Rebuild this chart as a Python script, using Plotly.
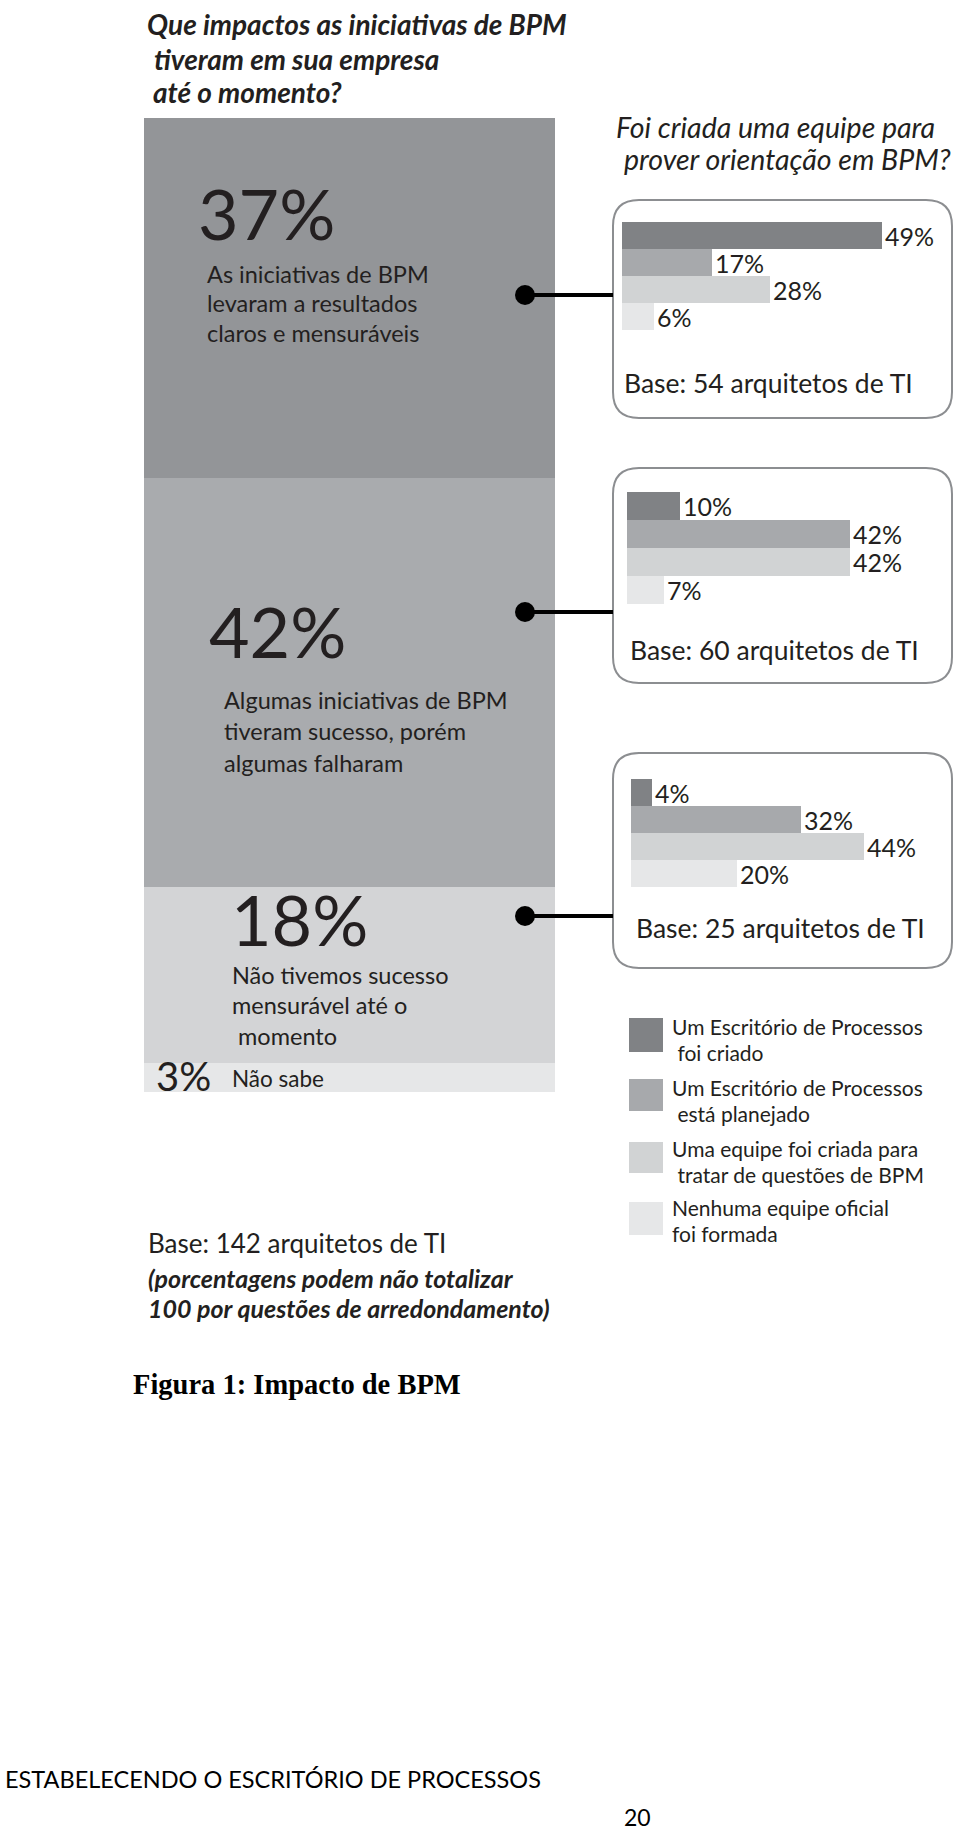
import plotly.graph_objects as go

W, H = 960, 1831


def X(px):
    return px / W


def Y(py):
    return 1 - py / H


# ---------------- data ----------------
title_lines = ["Que impactos as iniciativas de BPM", "tiveram em sua empresa", "até o momento?"]
impact_values = [37, 42, 18, 3]
impact_desc = [
    ["As iniciativas de BPM", "levaram a resultados", "claros e mensuráveis"],
    ["Algumas iniciativas de BPM", "tiveram sucesso, porém", "algumas falharam"],
    ["Não tivemos sucesso", "mensurável até o", " momento"],
    ["Não sabe"],
]
team_title = ["Foi criada uma equipe para", "prover orientação em BPM?"]
team_categories = [
    "Um Escritório de Processos foi criado",
    "Um Escritório de Processos está planejado",
    "Uma equipe foi criada para tratar de questões de BPM",
    "Nenhuma equipe oficial foi formada",
]
legend_lines = [
    ["Um Escritório de Processos", " foi criado"],
    ["Um Escritório de Processos", " está planejado"],
    ["Uma equipe foi criada para", " tratar de questões de BPM"],
    ["Nenhuma equipe oficial", "foi formada"],
]
team_values = [
    [49, 17, 28, 6],
    [10, 42, 42, 7],
    [4, 32, 44, 20],
]
team_bases = [54, 60, 25]
base_total = 142
note_lines = ["(porcentagens podem não totalizar", "100 por questões de arredondamento)"]
caption = "Figura 1: Impacto de BPM"
footer = "ESTABELECENDO O ESCRITÓRIO DE PROCESSOS"
page_number = "20"

# ---------------- style ----------------
impact_colors = ["#939598", "#a9abae", "#d3d4d6", "#e6e7e8"]
team_colors = ["#808285", "#a7a9ac", "#d1d3d4", "#e6e7e8"]
TXT = "#231f20"
SANS = "Lato"

fig = go.Figure()

# main stacked column
for v, c in zip(impact_values, impact_colors):
    fig.add_trace(go.Bar(x=[0], y=[v], width=1, marker=dict(color=c, line=dict(width=0)),
                         xaxis="x", yaxis="y", showlegend=False, hoverinfo="skip"))

# small horizontal bar charts
bar_start = [622, 627, 631]
bar_top = [222, 492, 779]
bar_bot = [330, 604, 887]
PX_PER = 5.3
XMAX = 60
for i, vals in enumerate(team_values):
    ax = str(i + 2)
    fig.add_trace(go.Bar(
        orientation="h", x=vals, y=team_categories,
        marker=dict(color=team_colors, line=dict(width=0)),
        text=[f"{v}%" for v in vals], textposition="outside", cliponaxis=False,
        constraintext="none", textfont=dict(family=SANS, size=25, color=TXT),
        xaxis="x" + ax, yaxis="y" + ax, showlegend=False, hoverinfo="skip"))

layout_axes = {}
layout_axes["xaxis"] = dict(domain=[X(144), X(555)], range=[-0.5, 0.5], visible=False, fixedrange=True)
layout_axes["yaxis"] = dict(domain=[Y(1092), Y(118)], range=[100, 0], visible=False, fixedrange=True)
for i in range(3):
    ax = str(i + 2)
    layout_axes["xaxis" + ax] = dict(domain=[X(bar_start[i]), X(bar_start[i] + PX_PER * XMAX)],
                                     range=[0, XMAX], visible=False, anchor="y" + ax)
    layout_axes["yaxis" + ax] = dict(domain=[Y(bar_bot[i]), Y(bar_top[i])],
                                     autorange="reversed", visible=False, anchor="x" + ax)

shapes = []
# rounded boxes
boxes = [(613, 952, 200, 418), (613, 952, 468, 683), (613, 952, 753, 968)]
r = 26
for (x0, x1, y0, y1) in boxes:
    p = (f"M {X(x0 + r)},{Y(y0)} L {X(x1 - r)},{Y(y0)} Q {X(x1)},{Y(y0)} {X(x1)},{Y(y0 + r)} "
         f"L {X(x1)},{Y(y1 - r)} Q {X(x1)},{Y(y1)} {X(x1 - r)},{Y(y1)} "
         f"L {X(x0 + r)},{Y(y1)} Q {X(x0)},{Y(y1)} {X(x0)},{Y(y1 - r)} "
         f"L {X(x0)},{Y(y0 + r)} Q {X(x0)},{Y(y0)} {X(x0 + r)},{Y(y0)} Z")
    shapes.append(dict(type="path", path=p, xref="paper", yref="paper",
                       line=dict(color="#8c8e91", width=2), fillcolor="white", layer="below"))

# connectors
dot_y = [295, 612, 916]
for dy in dot_y:
    shapes.append(dict(type="line", xref="paper", yref="paper", x0=X(525), x1=X(613),
                       y0=Y(dy), y1=Y(dy), line=dict(color="black", width=4), layer="above"))
    shapes.append(dict(type="circle", xref="paper", yref="paper", x0=X(515), x1=X(535),
                       y0=Y(dy + 10), y1=Y(dy - 10), fillcolor="black",
                       line=dict(color="black", width=0), layer="above"))

# legend swatches
sw = [(1018, 1052), (1079, 1111), (1142, 1173), (1202, 1235)]
for (t, b), c in zip(sw, team_colors):
    shapes.append(dict(type="rect", xref="paper", yref="paper", x0=X(629), x1=X(663),
                       y0=Y(b), y1=Y(t), fillcolor=c, line=dict(width=0)))

ann = []


def text(s, x, y, size, family=SANS, bold=False, italic=False, color=TXT, anchor="left"):
    if bold:
        s = f"<b>{s}</b>"
    if italic:
        s = f"<i>{s}</i>"
    ann.append(dict(text=s, x=X(x), y=Y(y), xref="paper", yref="paper", showarrow=False,
                    xanchor=anchor, yanchor="middle",
                    font=dict(family=family, size=size, color=color)))


# titles
for s, x, y in zip(title_lines, [145, 152, 151], [24, 59, 92]):
    text(s, x, y, 28, bold=True, italic=True)
for s, x, y in zip(team_title, [614, 622], [127, 159]):
    text(s, x, y, 28.5, italic=True)

# main column texts
big_pos = [(196, 213, 70), (207, 631, 70), (229, 919, 70), (154, 1076, 40)]
desc_pos = [
    (205, [274, 303, 333]),
    (222, [700, 731, 763]),
    (230, [975, 1005, 1036]),
    (230, [1078]),
]
desc_size = [23.5, 23.5, 23.5, 22.5]
for v, (bx, by, bs), lines, (dx, dys), ds in zip(impact_values, big_pos, impact_desc, desc_pos, desc_size):
    text(f"{v}%", bx, by, bs)
    for s, y in zip(lines, dys):
        text(s, dx, y, ds)

# base labels in boxes
for n, x, y in zip(team_bases, [622, 628, 634], [383, 650, 928]):
    text(f"Base: {n} arquitetos de TI", x, y, 26.5)

# legend texts
leg_y = [(1026, 1052), (1087, 1113), (1148, 1174), (1207, 1233)]
for lines, ys in zip(legend_lines, leg_y):
    for s, y in zip(lines, ys):
        text(s, 670, y, 21)

# bottom notes
text(f"Base: {base_total} arquitetos de TI", 146, 1243, 26)
for s, y in zip(note_lines, [1278, 1308]):
    text(s, 146, y, 25, bold=True, italic=True)

text(caption, 131, 1384, 28.5, family="Liberation Serif", bold=True, color="black")
text(footer, 3, 1779, 23.5, color="black")
text(page_number, 622, 1817, 23, color="black")

fig.update_layout(
    width=W, height=H, margin=dict(l=0, r=0, t=0, b=0),
    paper_bgcolor="white", plot_bgcolor="rgba(0,0,0,0)",
    barmode="stack", bargap=0, showlegend=False,
    shapes=shapes, annotations=ann, **layout_axes,
)

fig.write_html("out.html")
